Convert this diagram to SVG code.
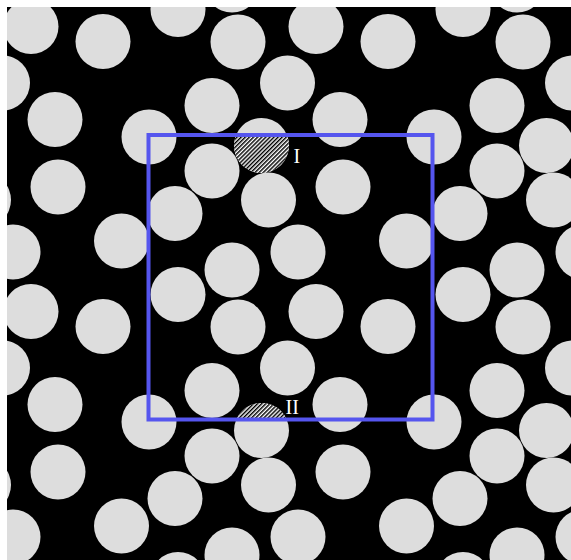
<svg xmlns="http://www.w3.org/2000/svg" xmlns:xlink="http://www.w3.org/1999/xlink" width="571" height="560" viewBox="0 0 571 560">
<style>
.p{fill:#dddddd}
.lbl{fill:#ffffff;font-family:"Liberation Serif","Times New Roman",serif;font-size:20px}
.box{fill:none;stroke:#5555ee;stroke-width:4}
</style>
<defs>
<clipPath id="scene"><rect x="7" y="7" width="564" height="553"/></clipPath>
<clipPath id="cellclip"><rect x="148.5" y="135" width="284" height="284.5"/></clipPath>
<pattern id="hatch" patternUnits="userSpaceOnUse" width="2.9" height="10" patternTransform="rotate(45)">
<rect x="0" y="0" width="2.9" height="10" fill="#ffffff"/>
<rect x="0" y="0" width="1.45" height="10" fill="#000000"/>
</pattern>
<g id="cell" class="p">
<circle cx="31" cy="26.5" r="27.5"/>
<circle cx="103" cy="41.5" r="27.5"/>
<circle cx="178" cy="9.5" r="27.5"/>
<circle cx="232" cy="-15" r="27.5"/>
<circle cx="238" cy="42" r="27.5"/>
<circle cx="2.5" cy="83" r="27.5"/>
<circle cx="55" cy="119.5" r="27.5"/>
<circle cx="212" cy="105.5" r="27.5"/>
<circle cx="149" cy="137" r="27.5"/>
<circle cx="261.5" cy="145.5" r="27.5"/>
<circle cx="212" cy="171" r="27.5"/>
<circle cx="58" cy="187" r="27.5"/>
<circle cx="268.5" cy="200" r="27.5"/>
<circle cx="175" cy="213.5" r="27.5"/>
<circle cx="13" cy="252" r="27.5"/>
<circle cx="121.5" cy="241" r="27.5"/>
</g>
</defs>
<rect x="0" y="0" width="571" height="560" fill="#ffffff"/>
<g id="particles" clip-path="url(#scene)">
<rect x="7" y="7" width="564" height="553" fill="#000000"/>
<use xlink:href="#cell" transform="translate(-285,0)"/>
<use xlink:href="#cell" transform="translate(0,0)"/>
<use xlink:href="#cell" transform="translate(285,0)"/>
<use xlink:href="#cell" transform="translate(570,0)"/>
<use xlink:href="#cell" transform="translate(-285,285)"/>
<use xlink:href="#cell" transform="translate(0,285)"/>
<use xlink:href="#cell" transform="translate(285,285)"/>
<use xlink:href="#cell" transform="translate(570,285)"/>
<use xlink:href="#cell" transform="translate(-285,570)"/>
<use xlink:href="#cell" transform="translate(0,570)"/>
<use xlink:href="#cell" transform="translate(285,570)"/>
<use xlink:href="#cell" transform="translate(570,570)"/>
</g>
<g id="hatched" clip-path="url(#cellclip)">
<circle cx="261.5" cy="145.5" r="27.5" fill="url(#hatch)"/>
<circle cx="261.5" cy="430.5" r="27.5" fill="url(#hatch)"/>
</g>
<g id="cell-box">
<rect class="box" x="148.5" y="135" width="284" height="284.5"/>
</g>
<g id="labels">
<text class="lbl" x="293.5" y="163">I</text>
<text class="lbl" x="285.5" y="414">II</text>
</g>
</svg>
